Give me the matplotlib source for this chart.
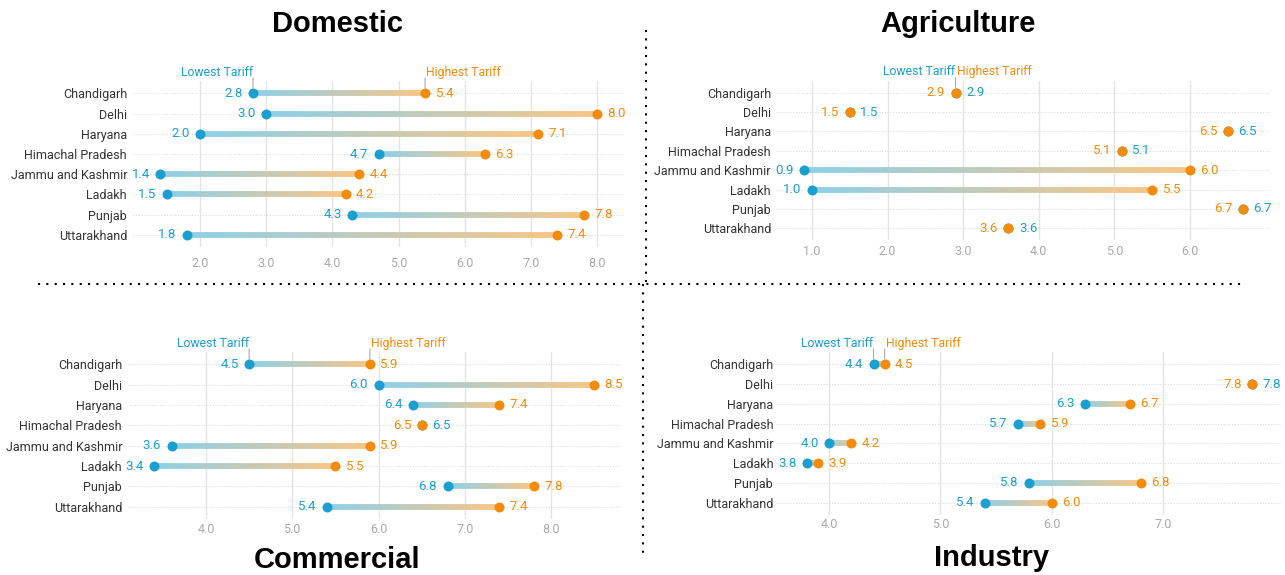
import numpy as np
import matplotlib
matplotlib.use("Agg")
import matplotlib.pyplot as plt
from matplotlib.collections import LineCollection
from matplotlib.lines import Line2D
from matplotlib.colors import to_rgb

states = ["Chandigarh", "Delhi", "Haryana", "Himachal Pradesh",
          "Jammu and Kashmir", "Ladakh", "Punjab", "Uttarakhand"]

domestic_low = [2.8, 3.0, 2.0, 4.7, 1.4, 1.5, 4.3, 1.8]
domestic_high = [5.4, 8.0, 7.1, 6.3, 4.4, 4.2, 7.8, 7.4]
agri_low = [2.9, 1.5, 6.5, 5.1, 0.9, 1.0, 6.7, 3.6]
agri_high = [2.9, 1.5, 6.5, 5.1, 6.0, 5.5, 6.7, 3.6]
comm_low = [4.5, 6.0, 6.4, 6.5, 3.6, 3.4, 6.8, 5.4]
comm_high = [5.9, 8.5, 7.4, 6.5, 5.9, 5.5, 7.8, 7.4]
ind_low = [4.4, 7.8, 6.3, 5.7, 4.0, 3.8, 5.8, 5.4]
ind_high = [4.5, 7.8, 6.7, 5.9, 4.2, 3.9, 6.8, 6.0]

domestic_ticks = [2.0, 3.0, 4.0, 5.0, 6.0, 7.0, 8.0]
agri_ticks = [1.0, 2.0, 3.0, 4.0, 5.0, 6.0]
comm_ticks = [4.0, 5.0, 6.0, 7.0, 8.0]
ind_ticks = [4.0, 5.0, 6.0, 7.0]

BLUE = "#1b9fd1"
ORANGE = "#f38b0c"
FONT = "Roboto"

W, H = 1285, 575
fig = plt.figure(figsize=(W / 100, H / 100), dpi=100)
fig.patch.set_facecolor("white")


def rect(l, r, t, b):
    return [l / W, 1 - b / H, (r - l) / W, (b - t) / H]


def light(c, f=0.5):
    c = np.array(to_rgb(c))
    return c * (1 - f) + f


def panel(axrect, low, high, ticks, xlim, tickpad, ylpad):
    ax = fig.add_axes(axrect)
    n = len(states)
    y = np.arange(n)
    ax.set_xlim(*xlim)
    ax.set_ylim(n - 1 + 0.6, -0.6)
    for s in ax.spines.values():
        s.set_visible(False)
    ax.set_xticks(ticks)
    ax.set_xticklabels([f"{t:.1f}" for t in ticks], fontfamily=FONT,
                       fontsize=9, color="#aaaaaa")
    ax.set_yticks(y)
    ax.set_yticklabels(states, fontfamily=FONT, fontsize=9, color="#333333")
    ax.tick_params(axis="x", length=0, pad=tickpad)
    ax.tick_params(axis="y", length=0, pad=ylpad)
    for t in ticks:
        ax.axvline(t, color="#e4e4e4", lw=1, zorder=0)
    for yy in y:
        ax.axhline(yy, color="#dddddd", lw=0.8, ls=(0, (1, 1.5)), zorder=0)

    cb, co = light(BLUE, 0.5), light(ORANGE, 0.5)
    for i in range(n):
        lo, hi = low[i], high[i]
        if hi > lo:
            m = 60
            xs = np.linspace(lo, hi, m + 1)
            segs = [[(xs[k], i), (xs[k + 1], i)] for k in range(m)]
            fr = (np.arange(m) + 0.5) / m
            cols = [tuple(cb * (1 - f) + co * f) for f in fr]
            lc = LineCollection(segs, colors=cols, linewidths=4.2,
                                capstyle="butt", zorder=2)
            ax.add_collection(lc)
        ax.plot([lo], [i], "o", color=BLUE, ms=7.2, mec="none", zorder=3)
        ax.plot([hi], [i], "o", color=ORANGE, ms=7.2, mec="none", zorder=4)
        if hi > lo:
            ax.annotate(f"{lo:.1f}", (lo, i), xytext=(-7.5, 0),
                        textcoords="offset points", ha="right", va="center",
                        color=BLUE, fontfamily=FONT, fontsize=9.5)
            ax.annotate(f"{hi:.1f}", (hi, i), xytext=(7.5, 0),
                        textcoords="offset points", ha="left", va="center",
                        color=ORANGE, fontfamily=FONT, fontsize=9.5)
        else:
            ax.annotate(f"{hi:.1f}", (hi, i), xytext=(-7.5, 0),
                        textcoords="offset points", ha="right", va="center",
                        color=ORANGE, fontfamily=FONT, fontsize=9.5)
            ax.annotate(f"{lo:.1f}", (lo, i), xytext=(7.5, 0),
                        textcoords="offset points", ha="left", va="center",
                        color=BLUE, fontfamily=FONT, fontsize=9.5)
    # header labels on first row
    lo, hi = low[0], high[0]
    for xv in sorted(set([lo, hi])):
        ax.annotate("", xy=(xv, 0), xytext=(0, 11), textcoords="offset points",
                    arrowprops=dict(arrowstyle="-", color="#aaaaaa", lw=0.8,
                                    shrinkA=0, shrinkB=3.8))
    ax.annotate("Lowest Tariff", (lo, 0), xytext=(0, 15),
                textcoords="offset points", ha="right", va="center",
                color=BLUE, fontfamily=FONT, fontsize=8.8)
    ax.annotate("Highest Tariff", (hi, 0), xytext=(1, 15),
                textcoords="offset points", ha="left", va="center",
                color=ORANGE, fontfamily=FONT, fontsize=8.8)
    return ax


panel(rect(133, 625, 81.2, 247.1), domestic_low, domestic_high,
      domestic_ticks, (0.987, 8.42), 7, 4.3)
panel(rect(776, 1270, 81.1, 239.9), agri_low, agri_high,
      agri_ticks, (0.524, 7.06), 3.6, 3.6)
panel(rect(129, 620, 352.1, 518.9), comm_low, comm_high,
      comm_ticks, (3.107, 8.8), 3, 5)
panel(rect(776, 1282, 352.4, 514.6), ind_low, ind_high,
      ind_ticks, (3.524, 8.07), 2.5, 2)

title_kw = dict(fontfamily="Liberation Sans", fontweight="bold", fontsize=21,
                ha="center", va="center", color="black")
fig.text(337.5 / W, 1 - 24 / H, "Domestic", **title_kw)
fig.text(958 / W, 1 - 24 / H, "Agriculture", **title_kw)
fig.text(337 / W, 1 - 560 / H, "Commercial", **title_kw)
fig.text(992 / W, 1 - 558 / H, "Industry", **title_kw)

sep = dict(color="black", lw=1.5, ls=(0, (1, 3)), transform=fig.transFigure)
fig.add_artist(Line2D([38 / W, 1241 / W], [1 - 284 / H, 1 - 284 / H], **sep))
fig.add_artist(Line2D([646 / W, 646 / W], [1 - 30 / H, 1 - 284 / H], **sep))
fig.add_artist(Line2D([643 / W, 643 / W], [1 - 284 / H, 1 - 555 / H], **sep))

fig.savefig("out.png", dpi=100, facecolor="white")
